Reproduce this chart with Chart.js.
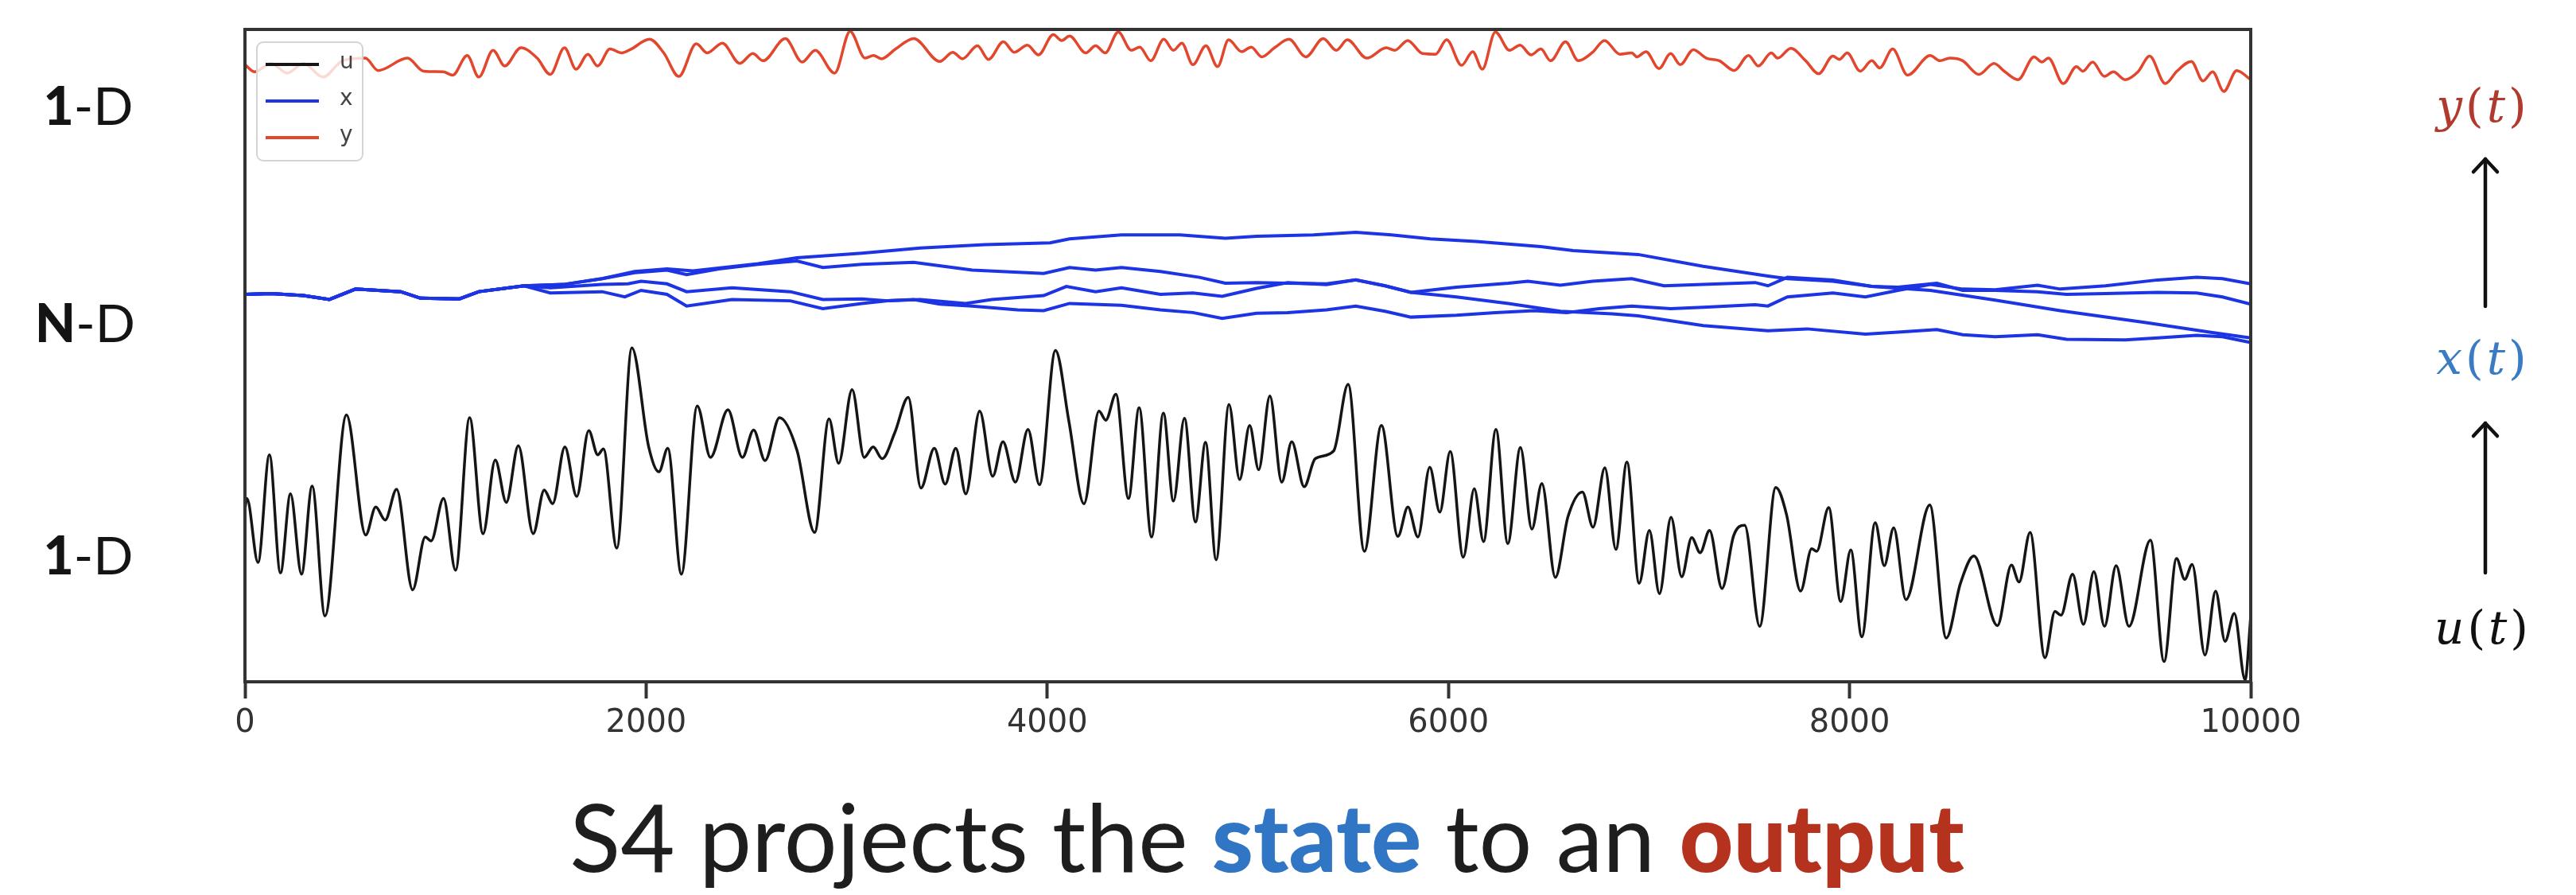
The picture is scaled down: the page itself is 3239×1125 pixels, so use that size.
<!DOCTYPE html>
<html>
<head>
<meta charset="utf-8">
<script src="https://cdn.jsdelivr.net/npm/chart.js@4.4.1/dist/chart.umd.min.js"></script>
<style>
  html, body { margin:0; padding:0; background:#fff; }
  body { width:3239px; height:1125px; position:relative; overflow:hidden; }
  #wrap { position:absolute; left:0; top:0; width:3239px; height:1125px; }
  .lbl { position:absolute; transform:translate(-50%,-50%); white-space:nowrap; font-family:Lato, "Open Sans", sans-serif; }
  .side { font-size:66px; color:#141414; }
  .side b { font-weight:900; }
  .math { font-family:"DejaVu Serif", serif; font-style:italic; font-size:58px; letter-spacing:4px; }
  .math span { font-style:normal; }
  #title { position:absolute; left:1593px; top:1050px; transform:translate(-50%,-50%); font-family:Lato, sans-serif; font-size:118px; color:#1e1e1e; white-space:nowrap; }
  #title .st { color:#3176c4; font-weight:900; }
  #title .out { color:#b5321e; font-weight:900; }
  svg { position:absolute; left:0; top:0; }
</style>
</head>
<body>
<div id="wrap"><canvas id="c"></canvas></div>

<div class="lbl side" style="left:111px; top:131px;"><b>1</b>-D</div>
<div class="lbl side" style="left:107px; top:404px;"><b>N</b>-D</div>
<div class="lbl side" style="left:111px; top:696px;"><b>1</b>-D</div>

<div class="lbl math" style="left:3122px; top:133px; color:#b03a2e;">y<span>(</span>t<span>)</span></div>
<div class="lbl math" style="left:3122px; top:450px; color:#3a7cc4;">x<span>(</span>t<span>)</span></div>
<div class="lbl math" style="left:3122px; top:789px; color:#111;">u<span>(</span>t<span>)</span></div>

<svg width="3239" height="1125">
  <g stroke="#111" stroke-width="4.5" fill="none" stroke-linecap="round" stroke-linejoin="round">
    <line x1="3125" y1="385" x2="3125" y2="200"/>
    <polyline points="3110,216 3125,200 3140,216"/>
    <line x1="3125" y1="720" x2="3125" y2="532"/>
    <polyline points="3110,548 3125,532 3140,548"/>
  </g>
</svg>

<div id="title">S4 projects the <span class="st">state</span> to an <span class="out">output</span></div>

<script>
// ---------- data ----------
const xTicks = [0, 2000, 4000, 6000, 8000, 10000];

// input u(t)
const uX = [0,10,65,122,177,227,282,335,399,506,602,652,699,756,836,899,928,990,1050,1120,1187,1248,1303,1363,1437,1492,1534,1595,1654,1714,1759,1787,1854,1929,2013,2064,2108,2176,2255,2321,2408,2480,2536,2593,2665,2753,2840,2912,2960,3027,3087,3132,3177,3240,3307,3370,3437,3491,3544,3594,3663,3728,3779,3841,3904,3961,4041,4108,4183,4258,4292,4342,4405,4458,4520,4579,4629,4684,4739,4789,4842,4906,4959,5009,5054,5110,5169,5219,5281,5336,5428,5500,5581,5666,5748,5798,5848,5907,5957,6009,6074,6129,6175,6237,6296,6359,6416,6466,6533,6596,6668,6721,6780,6835,6890,6951,7002,7052,7110,7163,7213,7255,7302,7364,7422,7477,7552,7632,7686,7756,7811,7836,7896,7956,8006,8061,8128,8173,8220,8281,8400,8482,8553,8620,8737,8807,8845,8900,8974,9024,9054,9112,9166,9218,9271,9329,9393,9500,9568,9630,9671,9708,9772,9825,9872,9918,9972,10000];
const uV = [26.5,28.1,18.3,34.8,16.7,28.8,16.5,30.0,10.1,40.9,22.5,26.8,24.8,29.5,14.1,22.2,21.6,28.1,17.1,40.5,22.7,34.0,27.5,36.2,22.7,29.4,27.3,36.0,28.4,38.5,34.8,35.7,20.5,51.2,36.0,32.2,35.8,16.5,42.3,34.4,41.7,34.4,38.6,33.9,40.5,35.4,22.9,40.3,33.5,44.8,34.4,36.0,34.2,38.2,43.6,29.7,35.8,30.3,35.8,28.8,41.5,31.5,36.8,30.6,38.7,30.2,50.8,39.9,27.3,41.5,40.1,44.1,28.1,42.0,22.2,41.2,27.7,40.4,24.5,36.7,18.7,42.5,31.0,39.3,32.5,43.8,30.6,36.8,29.9,34.2,35.4,45.6,20.0,39.3,22.3,26.8,22.2,32.9,26.0,35.3,19.1,29.6,21.5,38.7,21.2,35.9,23.4,30.4,16.0,25.3,29.1,23.7,32.8,20.3,33.7,15.1,23.2,13.5,25.2,16.1,22.1,19.8,23.2,14.3,22.4,24.0,8.5,29.8,25.6,13.9,20.4,20.0,26.7,12.3,20.2,6.9,24.4,17.8,23.6,12.6,27.1,6.7,15.1,19.3,8.6,17.9,15.3,22.9,3.7,10.8,10.2,16.5,8.8,16.9,8.5,17.8,8.5,21.7,3.1,18.9,15.7,18.0,4.1,13.9,6.2,10.5,0.3,10.0];

// output y(t)
const yX = [0,49,130,211,292,389,486,600,664,810,891,988,1036,1108,1166,1237,1295,1376,1457,1522,1593,1651,1710,1758,1820,1878,1926,2017,2088,2163,2250,2305,2380,2467,2532,2583,2694,2778,2843,2940,3017,3092,3134,3173,3244,3334,3464,3529,3577,3652,3707,3781,3836,3901,3956,4030,4072,4111,4192,4241,4289,4354,4419,4461,4516,4581,4629,4671,4726,4791,4849,4904,4969,5017,5069,5133,5205,5289,5376,5441,5496,5593,5690,5732,5797,5871,5936,5991,6066,6121,6169,6234,6305,6357,6412,6461,6509,6584,6648,6719,6778,6855,6914,6940,6985,7050,7108,7156,7221,7286,7351,7425,7496,7545,7610,7642,7707,7781,7846,7917,7949,7988,8053,8111,8150,8215,8289,8402,8451,8500,8564,8645,8720,8775,8840,8920,8959,8991,9066,9131,9163,9212,9270,9315,9374,9438,9496,9574,9632,9704,9762,9810,9866,9930,10000];
const yV = [94.6,93.5,94.8,93.3,94.8,92.7,95.2,95.6,93.7,95.6,93.6,93.5,93.0,96.0,92.7,96.8,94.4,97.2,95.6,93.1,97.2,93.9,96.2,94.4,97.0,96.4,97.0,98.5,96.4,92.8,97.8,96.4,97.9,94.8,96.3,95.2,98.6,95.0,96.8,93.3,99.7,95.6,96.0,95.5,97.0,98.6,95.1,96.5,95.5,97.5,95.4,98.1,96.5,97.6,96.1,99.2,98.3,99.0,96.4,97.5,96.4,99.6,96.8,97.3,95.2,98.5,96.8,97.9,94.6,97.5,94.3,98.4,96.6,97.3,95.8,97.2,98.5,95.8,98.6,96.8,98.4,95.6,97.2,96.8,98.3,96.3,96.2,98.4,94.5,96.6,93.9,99.6,96.8,97.6,96.1,97.0,95.2,98.1,95.2,96.5,98.3,96.2,96.4,95.8,96.6,94.0,96.3,94.6,96.9,95.6,95.2,93.7,96.0,94.4,96.4,95.6,97.1,95.2,93.2,95.9,95.4,96.4,93.6,95.2,94.1,97.0,93.0,96.0,95.2,95.6,95.2,93.1,94.8,93.5,92.3,95.8,95.0,95.6,91.7,94.3,93.6,95.0,92.8,93.5,92.3,93.5,95.9,91.7,93.6,95.1,92.1,93.5,90.5,93.7,92.3];

// state x(t): four components
const xAX = [0,130,292,421,551,777,875,1069,1166,1392,1587,1781,1943,2104,2234,2558,2752,3076,3367,3690,4014,4111,4370,4661,4888,5043,5328,5538,5716,5910,6137,6461,6622,6946,7270,7593,7690,7917,8111,8403,8726,9050,9471,9795,10000];
const xAV = [59.4,59.5,59.2,58.6,60.2,59.8,58.8,58.7,59.8,60.7,60.9,61.8,62.9,63.3,63.0,64.1,65.0,65.7,66.5,67.0,67.3,67.9,68.5,68.5,68.0,68.3,68.5,68.9,68.5,67.9,67.5,66.7,66.1,65.5,63.7,62.2,61.8,61.4,60.6,60.0,58.5,56.9,55.1,53.6,52.7];

const xBX = [0,130,292,421,551,777,875,1069,1166,1392,1587,1781,1943,2104,2202,2363,2558,2752,2881,3076,3334,3529,3626,3982,4111,4241,4370,4564,4759,4888,5043,5198,5392,5538,5684,5813,6040,6299,6396,6558,6719,6914,7075,7270,7529,7593,7690,7917,8111,8241,8435,8564,8726,8937,9082,9276,9536,9730,9859,10000];
const xBV = [59.4,59.5,59.2,58.6,60.2,59.8,58.8,58.7,59.8,60.7,60.9,61.8,62.7,63.1,62.4,63.3,64.0,64.5,63.5,64.0,64.3,63.5,63.1,62.6,63.5,63.1,63.5,62.9,62.0,61.1,61.2,61.1,61.0,61.6,60.7,59.7,60.5,61.1,61.4,60.8,61.4,61.8,60.7,60.9,61.2,60.7,62.0,61.6,60.6,60.5,61.1,60.0,60.0,59.8,59.4,59.5,59.7,59.6,59.0,57.9];

const xCX = [0,130,292,421,551,777,875,1069,1166,1392,1522,1781,1910,1975,2104,2202,2428,2719,2881,3076,3205,3334,3464,3626,3852,3982,4111,4370,4564,4726,4872,5043,5198,5392,5538,5684,5813,6040,6234,6428,6590,6752,6914,7108,7270,7529,7593,7690,7917,8079,8241,8403,8564,8726,8937,9050,9276,9536,9730,9859,10000];
const xCV = [59.4,59.5,59.2,58.6,60.2,59.8,58.8,58.7,59.8,60.7,60.4,60.9,61.0,61.4,61.0,59.8,60.4,59.8,58.6,58.7,58.4,58.6,57.9,57.6,57.0,56.9,58.0,57.7,57.0,56.6,55.7,56.5,56.6,57.0,57.6,56.8,55.9,56.2,56.6,56.9,56.6,57.2,57.6,57.2,57.4,57.8,57.6,59.0,59.6,59.0,60.0,60.9,60.2,60.1,60.8,60.2,60.7,61.6,62.0,61.8,61.0];

const xDX = [0,130,292,421,551,777,875,1069,1166,1392,1522,1781,1894,1975,2104,2202,2428,2719,2881,3076,3205,3367,3593,3723,3982,4095,4241,4370,4564,4726,4872,5043,5198,5392,5538,5684,5813,6040,6299,6558,6817,6946,7270,7593,7788,8079,8241,8435,8564,8726,8937,9082,9374,9536,9730,9859,10000];
const xDV = [59.4,59.5,59.2,58.6,60.2,59.8,58.8,58.7,59.8,60.7,59.6,59.8,59.0,60.0,59.4,57.6,58.6,58.4,57.2,58.0,58.4,58.6,58.0,58.6,59.2,60.6,59.8,60.4,59.4,59.6,59.1,60.3,61.2,60.9,61.6,60.7,59.7,59.0,58.0,56.8,56.4,56.1,54.6,53.8,54.1,53.3,53.6,54.0,53.2,52.9,53.2,52.5,52.4,52.7,53.1,52.9,52.0];

// ---------- helpers ----------
const pts = (xs, vs) => xs.map((x, i) => ({ x: x, y: vs[i] }));
const BLUE = '#1c34e4';
const RED = '#e2462c';
const BLACK = '#151515';

const blueDs = (xs, vs) => ({
  label: 'x', data: pts(xs, vs), borderColor: BLUE, borderWidth: 4,
  pointRadius: 0, tension: 0, fill: false
});

const framePlugin = {
  id: 'frame',
  afterDatasetsDraw(chart) {
    const a = chart.chartArea, ctx = chart.ctx;
    ctx.save();
    ctx.strokeStyle = '#333';
    ctx.lineWidth = 4;
    ctx.strokeRect(a.left, a.top, a.right - a.left, a.bottom - a.top);
    ctx.restore();
  }
};

const legendPlugin = {
  id: 'boxLegend',
  afterDraw(chart) {
    const ctx = chart.ctx, a = chart.chartArea;
    const seen = [], items = [];
    chart.data.datasets.forEach(d => { if (!seen.includes(d.label)) { seen.push(d.label); items.push(d); } });
    const bx = a.left + 15, by = a.top + 16, bw = 133, bh = 149;
    ctx.save();
    ctx.globalAlpha = 0.8;
    ctx.fillStyle = '#fff';
    ctx.beginPath();
    ctx.roundRect(bx, by, bw, bh, 8);
    ctx.fill();
    ctx.globalAlpha = 1;
    ctx.strokeStyle = '#d4d4d4';
    ctx.lineWidth = 2;
    ctx.stroke();
    ctx.font = '28px "DejaVu Sans"';
    ctx.textBaseline = 'middle';
    items.forEach((d, i) => {
      const yy = by + 28 + i * 46;
      ctx.strokeStyle = d.borderColor;
      ctx.lineWidth = 4;
      ctx.beginPath();
      ctx.moveTo(bx + 11, yy);
      ctx.lineTo(bx + 78, yy);
      ctx.stroke();
      ctx.fillStyle = '#444';
      ctx.fillText(d.label, bx + 104, yy - 2);
    });
    ctx.restore();
  }
};

new Chart(document.getElementById('c'), {
  type: 'line',
  data: {
    datasets: [
      { label: 'u', data: pts(uX, uV), borderColor: BLACK, borderWidth: 3.5,
        pointRadius: 0, cubicInterpolationMode: 'monotone', fill: false },
      blueDs(xAX, xAV), blueDs(xBX, xBV), blueDs(xCX, xCV), blueDs(xDX, xDV),
      { label: 'y', data: pts(yX, yV), borderColor: RED, borderWidth: 3.5,
        pointRadius: 0, cubicInterpolationMode: 'monotone', fill: false }
    ]
  },
  options: {
    responsive: true,
    maintainAspectRatio: false,
    devicePixelRatio: 1,
    animation: false,
    events: [],
    layout: { padding: { left: 308, right: 409, top: 37, bottom: 0 } },
    plugins: { legend: { display: false }, tooltip: { enabled: false }, title: { display: false } },
    scales: {
      x: {
        type: 'linear', min: 0, max: 10000,
        afterBuildTicks: s => { s.ticks = xTicks.map(v => ({ value: v })); },
        afterFit: s => { s.height = 268; },
        ticks: {
          callback: v => String(v), autoSkip: false, maxRotation: 0,
          color: '#333', padding: 8,
          font: { family: 'DejaVu Sans', size: 40 }
        },
        grid: { display: true, drawOnChartArea: false, drawTicks: true,
                tickLength: 21, tickWidth: 4, tickColor: '#333' },
        border: { display: false }
      },
      y: { display: false, min: 0, max: 100 }
    }
  },
  plugins: [framePlugin, legendPlugin]
});
</script>
</body>
</html>
